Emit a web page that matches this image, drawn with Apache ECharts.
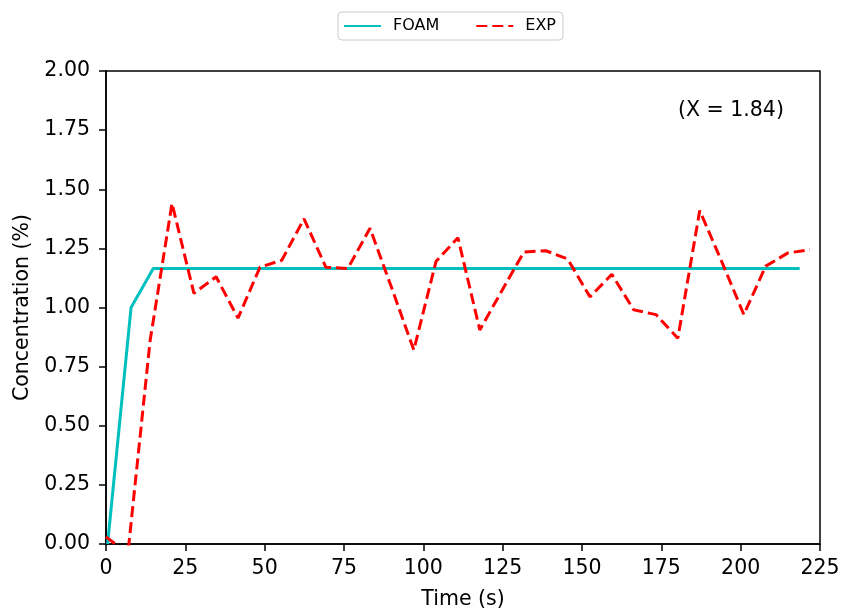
<!DOCTYPE html>
<html>
<head>
<meta charset="utf-8">
<script src="https://cdn.jsdelivr.net/npm/echarts@6/dist/echarts.min.js"></script>
<style>
  html, body { margin: 0; padding: 0; background: #fff; }
  #chart { width: 841px; height: 608px; }
</style>
</head>
<body>
<div id="chart"></div>
<script>
// FOAM simulation (cyan, solid)
const foamTime = [0.5, 7.9, 14.9, 218.6];
const foamConc = [0, 1.0, 1.165, 1.165];

// experiment (red, dashed)
const expTime = [0, 6.9, 13.9, 20.8, 27.7, 34.7, 41.6, 48.5, 55.4, 62.4, 69.3,
  76.2, 83.2, 90.1, 97.0, 104.0, 110.9, 117.8, 124.7, 131.7, 138.6, 145.5,
  152.5, 159.4, 166.3, 173.3, 180.2, 187.1, 194.0, 201.0, 207.9, 214.8, 221.8];
const expConc = [0.03, -0.04, 0.86, 1.44, 1.06, 1.13, 0.955, 1.17, 1.20, 1.375, 1.17,
  1.165, 1.335, 1.08, 0.82, 1.195, 1.295, 0.905, 1.07, 1.235, 1.24, 1.205,
  1.045, 1.14, 0.99, 0.97, 0.87, 1.41, 1.195, 0.97, 1.175, 1.23, 1.245];

const annotation = '(X = 1.84)';
const FONT = 'DejaVu Sans';
const FS = 20.5;

const chart = echarts.init(document.getElementById('chart'), null, { renderer: 'canvas' });

const pairs = (xs, ys) => xs.map((x, i) => [x, ys[i]]);

chart.setOption({
  animation: false,
  backgroundColor: '#fff',
  textStyle: { fontFamily: FONT, color: '#000' },
  grid: {
    left: 106, top: 71, right: 21, bottom: 64,
    containLabel: false, outerBoundsMode: 'none',
    show: true, borderColor: '#000', borderWidth: 1.5,
  },
  legend: {
    left: 338, top: 12,
    padding: [6, 7, 6, 5],
    itemGap: 36, itemWidth: 37, itemHeight: 14,
    borderColor: '#ccc', borderWidth: 1, borderRadius: 4,
    itemStyle: { opacity: 0 },
    textStyle: { fontSize: 16, fontFamily: FONT, color: '#000', padding: [0, 0, 0, 7] },
    data: ['FOAM', 'EXP'],
  },
  xAxis: {
    type: 'value', min: 0, max: 225, interval: 25,
    name: 'Time (s)', nameLocation: 'middle', nameGap: 45,
    nameTextStyle: { fontSize: FS, fontFamily: FONT, color: '#000' },
    axisLine: { show: true, onZero: false, lineStyle: { color: '#000', width: 1.5 } },
    axisTick: { show: true, length: 7, lineStyle: { color: '#000', width: 1.5 } },
    axisLabel: { fontSize: FS, fontFamily: FONT, color: '#000', margin: 14 },
    splitLine: { show: false },
  },
  yAxis: {
    type: 'value', min: 0, max: 2, interval: 0.25,
    name: 'Concentration (%)', nameLocation: 'middle', nameGap: 72, nameRotate: 90,
    nameTextStyle: { fontSize: FS, fontFamily: FONT, color: '#000' },
    axisLine: { show: true, lineStyle: { color: '#000', width: 1.5 } },
    axisTick: { show: true, length: 7, lineStyle: { color: '#000', width: 1.5 } },
    axisLabel: { fontSize: FS, fontFamily: FONT, color: '#000', margin: 16, formatter: v => v.toFixed(2) },
    splitLine: { show: false },
  },
  series: [{
    name: 'FOAM',
    type: 'line',
    data: pairs(foamTime, foamConc),
    symbol: 'none',
    clip: true,
    lineStyle: { color: '#00bfbf', width: 3 },
    itemStyle: { color: '#00bfbf' },
  }, {
    name: 'EXP',
    type: 'line',
    data: pairs(expTime, expConc),
    symbol: 'none',
    clip: true,
    lineStyle: { color: '#ff0000', width: 3, type: [11, 5] },
    itemStyle: { color: '#ff0000' },
  }],
  graphic: [{
    type: 'text',
    left: 678, top: 100,
    style: { text: annotation, fontSize: FS, fontFamily: FONT, fill: '#000' },
  }],
});
</script>
</body>
</html>
